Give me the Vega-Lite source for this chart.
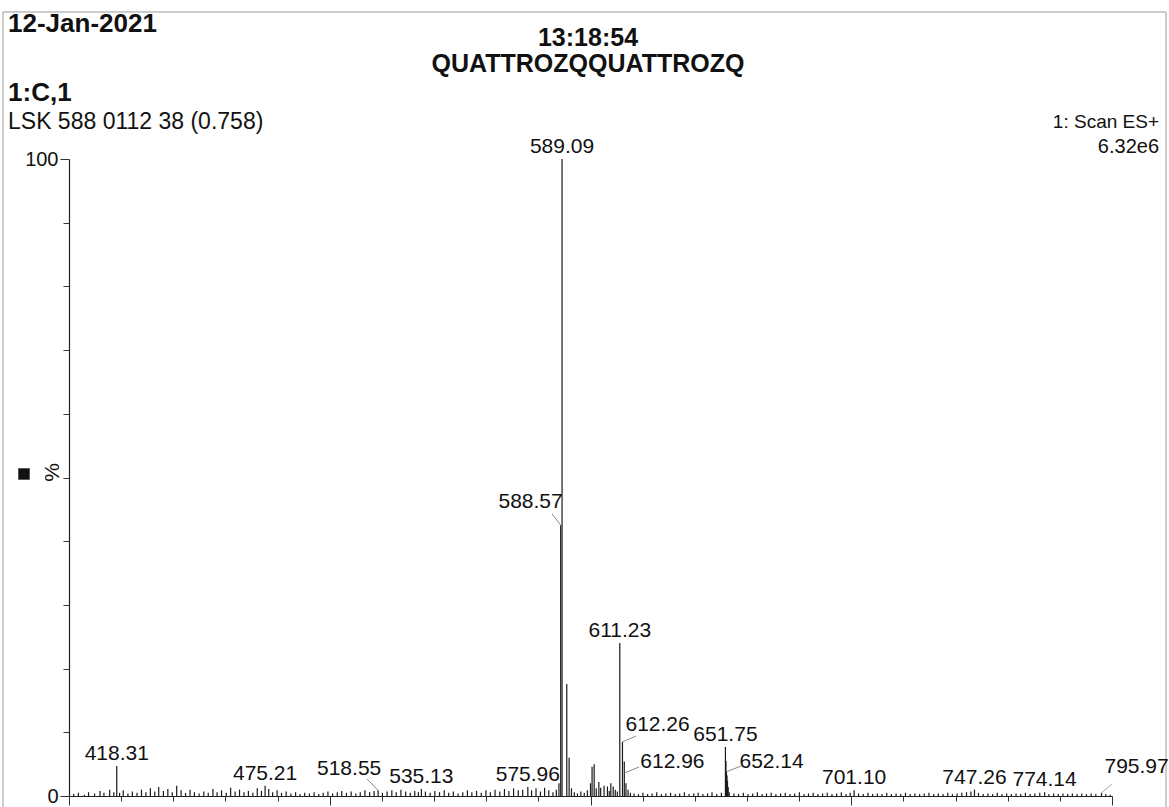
{
  "$schema": "https://vega.github.io/schema/vega-lite/v6.json",
  "width": 1043,
  "height": 637,
  "autosize": {"type": "none"},
  "padding": {"left": 69, "top": 159, "right": 57, "bottom": 11},
  "background": "#ffffff",
  "config": {"view": {"stroke": null}, "font": "Liberation Sans"},
  "datasets": {
    "peaks": [
      {"mz": 401.8, "pct": 0.3}, {"mz": 403.6, "pct": 0.5}, {"mz": 405.9, "pct": 0.2}, {"mz": 407.5, "pct": 0.6},
      {"mz": 409.8, "pct": 0.4}, {"mz": 411.9, "pct": 0.8}, {"mz": 413.4, "pct": 0.5}, {"mz": 415.6, "pct": 1.0},
      {"mz": 417.2, "pct": 0.6}, {"mz": 418.31, "pct": 4.7}, {"mz": 419.4, "pct": 0.5}, {"mz": 420.8, "pct": 0.9},
      {"mz": 422.6, "pct": 0.4}, {"mz": 424.3, "pct": 0.7}, {"mz": 426.1, "pct": 0.5}, {"mz": 427.8, "pct": 1.0},
      {"mz": 429.5, "pct": 0.6}, {"mz": 431.2, "pct": 1.2}, {"mz": 432.9, "pct": 0.7}, {"mz": 434.4, "pct": 1.4},
      {"mz": 436.2, "pct": 0.8}, {"mz": 437.9, "pct": 1.1}, {"mz": 439.6, "pct": 0.6}, {"mz": 441.3, "pct": 1.6},
      {"mz": 443.0, "pct": 0.9}, {"mz": 444.7, "pct": 0.5}, {"mz": 446.4, "pct": 1.0}, {"mz": 448.1, "pct": 0.6},
      {"mz": 449.9, "pct": 0.4}, {"mz": 451.7, "pct": 0.7}, {"mz": 453.4, "pct": 0.5}, {"mz": 455.2, "pct": 1.1},
      {"mz": 456.8, "pct": 0.6}, {"mz": 458.5, "pct": 0.9}, {"mz": 460.3, "pct": 0.5}, {"mz": 462.0, "pct": 1.3},
      {"mz": 463.7, "pct": 0.7}, {"mz": 465.4, "pct": 1.0}, {"mz": 467.1, "pct": 0.6}, {"mz": 468.8, "pct": 0.8},
      {"mz": 470.5, "pct": 0.5}, {"mz": 472.2, "pct": 1.2}, {"mz": 473.8, "pct": 0.8}, {"mz": 475.21, "pct": 1.6},
      {"mz": 476.6, "pct": 1.1}, {"mz": 478.1, "pct": 0.6}, {"mz": 479.8, "pct": 0.9}, {"mz": 481.5, "pct": 0.5},
      {"mz": 483.3, "pct": 0.7}, {"mz": 485.1, "pct": 0.4}, {"mz": 486.9, "pct": 0.6}, {"mz": 488.6, "pct": 0.3},
      {"mz": 490.4, "pct": 0.5}, {"mz": 492.2, "pct": 0.4}, {"mz": 494.0, "pct": 0.6}, {"mz": 495.8, "pct": 0.3},
      {"mz": 497.5, "pct": 0.5}, {"mz": 499.3, "pct": 0.7}, {"mz": 501.1, "pct": 0.4}, {"mz": 502.9, "pct": 0.6},
      {"mz": 504.6, "pct": 0.8}, {"mz": 506.4, "pct": 0.5}, {"mz": 508.2, "pct": 0.7}, {"mz": 510.0, "pct": 0.4},
      {"mz": 511.7, "pct": 0.6}, {"mz": 513.5, "pct": 0.9}, {"mz": 515.3, "pct": 0.6}, {"mz": 517.0, "pct": 0.8},
      {"mz": 518.55, "pct": 0.9}, {"mz": 520.2, "pct": 0.5}, {"mz": 522.0, "pct": 0.7}, {"mz": 523.8, "pct": 0.9},
      {"mz": 525.5, "pct": 0.6}, {"mz": 527.3, "pct": 1.0}, {"mz": 529.1, "pct": 0.7}, {"mz": 530.9, "pct": 0.5},
      {"mz": 532.6, "pct": 0.8}, {"mz": 534.0, "pct": 0.6}, {"mz": 535.13, "pct": 1.1}, {"mz": 536.7, "pct": 0.7},
      {"mz": 538.5, "pct": 0.5}, {"mz": 540.3, "pct": 0.8}, {"mz": 542.1, "pct": 0.6}, {"mz": 543.9, "pct": 0.9},
      {"mz": 545.6, "pct": 0.5}, {"mz": 547.4, "pct": 0.7}, {"mz": 549.2, "pct": 0.4}, {"mz": 551.0, "pct": 0.6},
      {"mz": 552.8, "pct": 0.9}, {"mz": 554.5, "pct": 0.6}, {"mz": 556.3, "pct": 0.8}, {"mz": 558.1, "pct": 0.5},
      {"mz": 559.9, "pct": 0.9}, {"mz": 561.6, "pct": 0.6}, {"mz": 563.4, "pct": 1.0}, {"mz": 565.2, "pct": 0.7},
      {"mz": 567.0, "pct": 1.1}, {"mz": 568.7, "pct": 0.8}, {"mz": 570.5, "pct": 1.2}, {"mz": 572.3, "pct": 0.9},
      {"mz": 574.0, "pct": 1.0}, {"mz": 575.96, "pct": 1.4}, {"mz": 577.4, "pct": 0.9}, {"mz": 579.1, "pct": 1.2},
      {"mz": 580.8, "pct": 0.7}, {"mz": 582.4, "pct": 1.3}, {"mz": 584.0, "pct": 0.9}, {"mz": 585.6, "pct": 0.6},
      {"mz": 586.9, "pct": 1.0}, {"mz": 587.9, "pct": 2.0}, {"mz": 588.57, "pct": 42.5}, {"mz": 589.09, "pct": 100},
      {"mz": 590.9, "pct": 17.6}, {"mz": 591.8, "pct": 6.0}, {"mz": 592.7, "pct": 1.2}, {"mz": 593.8, "pct": 0.6},
      {"mz": 595.0, "pct": 0.4}, {"mz": 596.3, "pct": 0.7}, {"mz": 597.6, "pct": 0.5}, {"mz": 598.8, "pct": 0.9},
      {"mz": 600.0, "pct": 2.0}, {"mz": 600.6, "pct": 4.6}, {"mz": 601.4, "pct": 5.0}, {"mz": 602.2, "pct": 1.2},
      {"mz": 603.2, "pct": 2.2}, {"mz": 603.9, "pct": 1.3}, {"mz": 605.2, "pct": 1.6}, {"mz": 606.5, "pct": 1.5},
      {"mz": 607.2, "pct": 0.8}, {"mz": 607.8, "pct": 2.0}, {"mz": 608.7, "pct": 1.5}, {"mz": 609.5, "pct": 1.0},
      {"mz": 610.3, "pct": 0.7}, {"mz": 611.23, "pct": 24.0}, {"mz": 612.26, "pct": 8.5}, {"mz": 612.96, "pct": 5.4},
      {"mz": 613.6, "pct": 2.0}, {"mz": 614.4, "pct": 1.0}, {"mz": 615.3, "pct": 0.5}, {"mz": 616.7, "pct": 0.4},
      {"mz": 618.4, "pct": 0.3}, {"mz": 620.1, "pct": 0.5}, {"mz": 621.9, "pct": 0.3}, {"mz": 623.6, "pct": 0.4},
      {"mz": 625.4, "pct": 0.6}, {"mz": 627.2, "pct": 0.3}, {"mz": 628.9, "pct": 0.4}, {"mz": 630.7, "pct": 0.5},
      {"mz": 632.5, "pct": 0.3}, {"mz": 634.2, "pct": 0.4}, {"mz": 636.0, "pct": 0.6}, {"mz": 637.8, "pct": 0.3},
      {"mz": 639.6, "pct": 0.4}, {"mz": 641.3, "pct": 0.5}, {"mz": 643.1, "pct": 0.3}, {"mz": 644.9, "pct": 0.4},
      {"mz": 646.6, "pct": 0.6}, {"mz": 648.4, "pct": 0.3}, {"mz": 650.2, "pct": 0.5}, {"mz": 651.75, "pct": 7.7},
      {"mz": 651.95, "pct": 5.5}, {"mz": 652.14, "pct": 3.8}, {"mz": 652.35, "pct": 3.2}, {"mz": 652.55, "pct": 2.4},
      {"mz": 652.8, "pct": 1.4}, {"mz": 653.2, "pct": 0.6}, {"mz": 655.0, "pct": 0.4}, {"mz": 656.8, "pct": 0.3},
      {"mz": 658.6, "pct": 0.5}, {"mz": 660.4, "pct": 0.3}, {"mz": 662.2, "pct": 0.4}, {"mz": 664.0, "pct": 0.6},
      {"mz": 665.8, "pct": 0.3}, {"mz": 667.5, "pct": 0.4}, {"mz": 669.3, "pct": 0.5}, {"mz": 671.1, "pct": 0.3},
      {"mz": 672.9, "pct": 0.4}, {"mz": 674.7, "pct": 0.5}, {"mz": 676.5, "pct": 0.3}, {"mz": 678.3, "pct": 0.4},
      {"mz": 680.1, "pct": 0.6}, {"mz": 681.9, "pct": 0.3}, {"mz": 683.6, "pct": 0.4}, {"mz": 685.4, "pct": 0.5},
      {"mz": 687.2, "pct": 0.3}, {"mz": 689.0, "pct": 0.4}, {"mz": 690.8, "pct": 0.5}, {"mz": 692.6, "pct": 0.3},
      {"mz": 694.4, "pct": 0.4}, {"mz": 696.2, "pct": 0.6}, {"mz": 698.0, "pct": 0.3}, {"mz": 699.6, "pct": 0.5},
      {"mz": 701.1, "pct": 0.9}, {"mz": 702.8, "pct": 0.4}, {"mz": 704.6, "pct": 0.3}, {"mz": 706.4, "pct": 0.5},
      {"mz": 708.2, "pct": 0.3}, {"mz": 710.0, "pct": 0.4}, {"mz": 711.8, "pct": 0.3}, {"mz": 713.6, "pct": 0.5},
      {"mz": 715.4, "pct": 0.3}, {"mz": 717.2, "pct": 0.4}, {"mz": 719.0, "pct": 0.3}, {"mz": 720.8, "pct": 0.5},
      {"mz": 722.6, "pct": 0.3}, {"mz": 724.4, "pct": 0.4}, {"mz": 726.2, "pct": 0.3}, {"mz": 728.0, "pct": 0.4},
      {"mz": 729.8, "pct": 0.5}, {"mz": 731.6, "pct": 0.3}, {"mz": 733.4, "pct": 0.4}, {"mz": 735.2, "pct": 0.3},
      {"mz": 737.0, "pct": 0.5}, {"mz": 738.8, "pct": 0.3}, {"mz": 740.6, "pct": 0.4}, {"mz": 742.4, "pct": 0.5},
      {"mz": 744.2, "pct": 0.6}, {"mz": 745.9, "pct": 0.7}, {"mz": 747.26, "pct": 1.0}, {"mz": 748.8, "pct": 0.5},
      {"mz": 750.6, "pct": 0.3}, {"mz": 752.4, "pct": 0.4}, {"mz": 754.2, "pct": 0.3}, {"mz": 756.0, "pct": 0.5},
      {"mz": 757.8, "pct": 0.3}, {"mz": 759.6, "pct": 0.4}, {"mz": 761.4, "pct": 0.3}, {"mz": 763.2, "pct": 0.4},
      {"mz": 765.0, "pct": 0.3}, {"mz": 766.8, "pct": 0.5}, {"mz": 768.6, "pct": 0.3}, {"mz": 770.4, "pct": 0.4},
      {"mz": 772.3, "pct": 0.5}, {"mz": 774.14, "pct": 0.6}, {"mz": 775.8, "pct": 0.3}, {"mz": 777.6, "pct": 0.4},
      {"mz": 779.4, "pct": 0.3}, {"mz": 781.2, "pct": 0.4}, {"mz": 783.0, "pct": 0.3}, {"mz": 784.8, "pct": 0.4},
      {"mz": 786.6, "pct": 0.3}, {"mz": 788.4, "pct": 0.4}, {"mz": 790.2, "pct": 0.3}, {"mz": 792.0, "pct": 0.4},
      {"mz": 793.8, "pct": 0.3}, {"mz": 795.97, "pct": 0.5}, {"mz": 797.6, "pct": 0.3}, {"mz": 799.3, "pct": 0.2}
    ],
    "labels": [
      {"label": "418.31", "mz": 418.31, "pct": 4.7},
      {"label": "475.21", "mz": 475.21, "pct": 1.6},
      {"label": "518.55", "mz": 518.55, "pct": 0.9},
      {"label": "535.13", "mz": 535.13, "pct": 1.1},
      {"label": "575.96", "mz": 575.96, "pct": 1.4},
      {"label": "588.57", "mz": 588.57, "pct": 42.5},
      {"label": "589.09", "mz": 589.09, "pct": 100},
      {"label": "611.23", "mz": 611.23, "pct": 24.0},
      {"label": "612.26", "mz": 612.26, "pct": 8.5},
      {"label": "612.96", "mz": 612.96, "pct": 5.4},
      {"label": "651.75", "mz": 651.75, "pct": 7.7},
      {"label": "652.14", "mz": 652.14, "pct": 3.8},
      {"label": "701.10", "mz": 701.1, "pct": 0.9},
      {"label": "747.26", "mz": 747.26, "pct": 1.0},
      {"label": "774.14", "mz": 774.14, "pct": 0.6},
      {"label": "795.97", "mz": 795.97, "pct": 0.5}
    ]
  },
  "layer": [
    {
      "data": {"values": [{}]},
      "mark": {"type": "rect", "fillOpacity": 0, "stroke": "#9a9a9a", "strokeWidth": 1},
      "encoding": {"x": {"datum": 374.69}, "x2": {"datum": 820.71}, "y": {"datum": 123.08}, "y2": {"datum": -2.98}}
    },
    {
      "data": {"name": "peaks"},
      "mark": {"type": "rule", "color": "#1a1a1a", "strokeWidth": 1.2},
      "encoding": {
        "x": {
          "field": "mz", "type": "quantitative",
          "scale": {"domain": [400, 800], "nice": false, "zero": false},
          "axis": {
            "title": null, "grid": false, "labels": false,
            "values": [400,405,410,415,420,425,430,435,440,445,450,455,460,465,470,475,480,485,490,495,500,505,510,515,520,525,530,535,540,545,550,555,560,565,570,575,580,585,590,595,600,605,610,615,620,625,630,635,640,645,650,655,660,665,670,675,680,685,690,695,700,705,710,715,720,725,730,735,740,745,750,755,760,765,770,775,780,785,790,795,800],
            "domainColor": "#222222", "domainWidth": 1.2, "tickColor": "#333333", "tickWidth": 1,
            "tickSize": {"condition": {"test": "datum.value % 25 === 0", "value": 9}, "value": 5}
          }
        },
        "y": {
          "field": "pct", "type": "quantitative",
          "scale": {"domain": [0, 100], "nice": false},
          "axis": {
            "title": "%", "grid": false,
            "values": [0,10,20,30,40,50,60,70,80,90,100],
            "labelExpr": "datum.value == 0 || datum.value == 100 ? datum.label : ''",
            "labelFont": "Liberation Sans", "labelFontSize": 20, "labelColor": "#111111", "labelPadding": 2,
            "tickSize": {"condition": {"test": "datum.value == 0 || datum.value == 100", "value": 9}, "value": 6},
            "domainColor": "#222222", "domainWidth": 1.2, "tickColor": "#333333",
            "titleFont": "Liberation Sans", "titleFontSize": 21, "titleFontWeight": "normal", "titleColor": "#111111",
            "titleX": -17, "titleY": 313, "titleAlign": "center", "titleBaseline": "middle"
          }
        },
        "y2": {"datum": 0}
      }
    },
    {
      "data": {"name": "labels"},
      "transform": [{"filter": {"field": "label", "oneOf": ["418.31", "475.21", "535.13", "575.96", "589.09", "611.23", "651.75", "701.10", "747.26", "774.14"]}}],
      "mark": {"type": "text", "fontSize": 21, "align": "center", "baseline": "middle", "dy": -12, "color": "#111111"},
      "encoding": {"x": {"field": "mz", "type": "quantitative"}, "y": {"field": "pct", "type": "quantitative"}, "text": {"field": "label"}}
    },
    {
      "data": {"name": "labels"},
      "transform": [{"filter": "datum.label == '518.55'"}],
      "layer": [
        {"mark": {"type": "rule", "color": "#888888", "strokeWidth": 1}, "encoding": {"x": {"field": "mz", "type": "quantitative"}, "y": {"field": "pct", "type": "quantitative"}, "x2": {"datum": 514.3}, "y2": {"datum": 2.67}}},
        {"mark": {"type": "text", "fontSize": 21, "align": "center", "baseline": "middle", "dx": -29, "dy": -21, "color": "#111111"}, "encoding": {"x": {"field": "mz", "type": "quantitative"}, "y": {"field": "pct", "type": "quantitative"}, "text": {"field": "label"}}}
      ]
    },
    {
      "data": {"name": "labels"},
      "transform": [{"filter": "datum.label == '588.57'"}],
      "layer": [
        {"mark": {"type": "rule", "color": "#888888", "strokeWidth": 1}, "encoding": {"x": {"field": "mz", "type": "quantitative"}, "y": {"field": "pct", "type": "quantitative"}, "x2": {"datum": 585.2}, "y2": {"datum": 44.3}}},
        {"mark": {"type": "text", "fontSize": 21, "align": "right", "baseline": "middle", "dx": 2, "dy": -23, "color": "#111111"}, "encoding": {"x": {"field": "mz", "type": "quantitative"}, "y": {"field": "pct", "type": "quantitative"}, "text": {"field": "label"}}}
      ]
    },
    {
      "data": {"name": "labels"},
      "transform": [{"filter": "datum.label == '612.26'"}],
      "layer": [
        {"mark": {"type": "rule", "color": "#888888", "strokeWidth": 1}, "encoding": {"x": {"field": "mz", "type": "quantitative"}, "y": {"field": "pct", "type": "quantitative"}, "x2": {"datum": 617.45}, "y2": {"datum": 9.4}}},
        {"mark": {"type": "text", "fontSize": 21, "align": "left", "baseline": "middle", "dx": 3, "dy": -17, "color": "#111111"}, "encoding": {"x": {"field": "mz", "type": "quantitative"}, "y": {"field": "pct", "type": "quantitative"}, "text": {"field": "label"}}}
      ]
    },
    {
      "data": {"name": "labels"},
      "transform": [{"filter": "datum.label == '612.96'"}],
      "layer": [
        {"mark": {"type": "rule", "color": "#888888", "strokeWidth": 1}, "encoding": {"x": {"field": "mz", "type": "quantitative"}, "y": {"datum": 3.6}, "x2": {"datum": 618.6}, "y2": {"datum": 4.55}}},
        {"mark": {"type": "text", "fontSize": 21, "align": "left", "baseline": "middle", "dx": 16, "dy": 0, "color": "#111111"}, "encoding": {"x": {"field": "mz", "type": "quantitative"}, "y": {"field": "pct", "type": "quantitative"}, "text": {"field": "label"}}}
      ]
    },
    {
      "data": {"name": "labels"},
      "transform": [{"filter": "datum.label == '652.14'"}],
      "layer": [
        {"mark": {"type": "rule", "color": "#888888", "strokeWidth": 1}, "encoding": {"x": {"field": "mz", "type": "quantitative"}, "y": {"field": "pct", "type": "quantitative"}, "x2": {"datum": 657.7}, "y2": {"datum": 4.7}}},
        {"mark": {"type": "text", "fontSize": 21, "align": "left", "baseline": "middle", "dx": 13, "dy": -10, "color": "#111111"}, "encoding": {"x": {"field": "mz", "type": "quantitative"}, "y": {"field": "pct", "type": "quantitative"}, "text": {"field": "label"}}}
      ]
    },
    {
      "data": {"name": "labels"},
      "transform": [{"filter": "datum.label == '795.97'"}],
      "layer": [
        {"mark": {"type": "rule", "color": "#aaaaaa", "strokeWidth": 1}, "encoding": {"x": {"field": "mz", "type": "quantitative"}, "y": {"field": "pct", "type": "quantitative"}, "x2": {"datum": 800.0}, "y2": {"datum": 1.88}}},
        {"mark": {"type": "text", "fontSize": 21, "align": "left", "baseline": "middle", "dx": 3, "dy": -26, "color": "#111111"}, "encoding": {"x": {"field": "mz", "type": "quantitative"}, "y": {"field": "pct", "type": "quantitative"}, "text": {"field": "label"}}}
      ]
    },
    {
      "data": {"values": [{}]},
      "mark": {"type": "point", "shape": "square", "filled": true, "size": 130, "color": "#111111", "opacity": 1},
      "encoding": {"x": {"datum": 382.74}, "y": {"datum": 50.55}}
    },
    {
      "data": {"values": [{}]},
      "mark": {"type": "text", "text": "12-Jan-2021", "fontSize": 26, "fontWeight": "bold", "align": "left", "baseline": "middle", "color": "#111111"},
      "encoding": {"x": {"datum": 376.61}, "y": {"datum": 121.2}}
    },
    {
      "data": {"values": [{}]},
      "mark": {"type": "text", "text": "13:18:54", "fontSize": 25, "fontWeight": "bold", "align": "center", "baseline": "middle", "color": "#111111"},
      "encoding": {"x": {"datum": 599.04}, "y": {"datum": 119.0}}
    },
    {
      "data": {"values": [{}]},
      "mark": {"type": "text", "text": "QUATTROZQQUATTROZQ", "fontSize": 25, "fontWeight": "bold", "align": "center", "baseline": "middle", "color": "#111111"},
      "encoding": {"x": {"datum": 599.04}, "y": {"datum": 114.91}}
    },
    {
      "data": {"values": [{}]},
      "mark": {"type": "text", "text": "1:C,1", "fontSize": 26, "fontWeight": "bold", "align": "left", "baseline": "middle", "color": "#111111"},
      "encoding": {"x": {"datum": 376.61}, "y": {"datum": 110.36}}
    },
    {
      "data": {"values": [{}]},
      "mark": {"type": "text", "text": "LSK 588 0112 38 (0.758)", "fontSize": 23, "align": "left", "baseline": "middle", "color": "#111111"},
      "encoding": {"x": {"datum": 376.61}, "y": {"datum": 105.81}}
    },
    {
      "data": {"values": [{}]},
      "mark": {"type": "text", "text": "1: Scan ES+", "fontSize": 19, "align": "right", "baseline": "middle", "color": "#111111"},
      "encoding": {"x": {"datum": 818.03}, "y": {"datum": 105.81}}
    },
    {
      "data": {"values": [{}]},
      "mark": {"type": "text", "text": "6.32e6", "fontSize": 20, "align": "right", "baseline": "middle", "color": "#111111"},
      "encoding": {"x": {"datum": 818.03}, "y": {"datum": 101.88}}
    }
  ]
}
